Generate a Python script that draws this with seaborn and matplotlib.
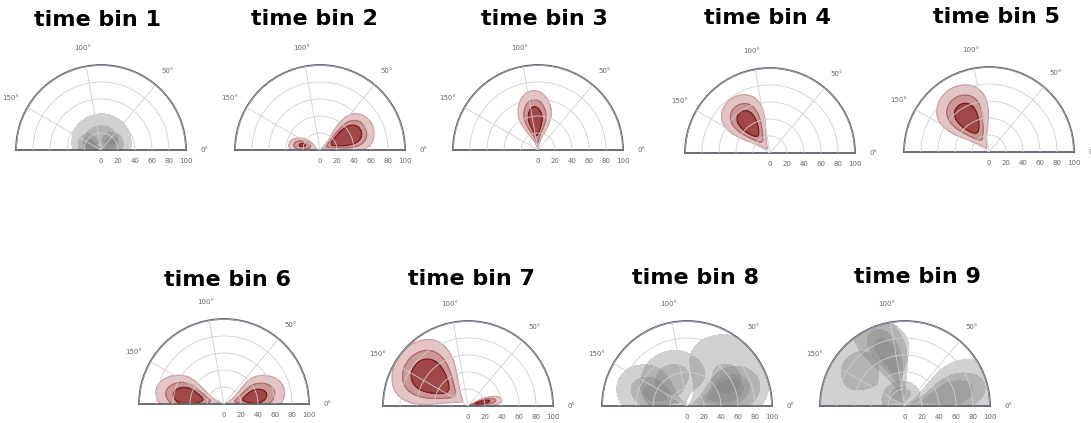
import numpy as np
import pandas as pd
import matplotlib
matplotlib.use("Agg")
import matplotlib.pyplot as plt
import seaborn as sns

# ── Data: sample points (angle in degrees, radius), grouped by cluster ───────

# time bin 1
theta_b1_a = [10, 35, 60, 85, 110, 135, 160, 175, 20, 50, 80, 100, 130, 155, 90]
r_b1_a     = [19, 22, 24, 27, 24, 22, 19, 16, 8, 11, 14, 14, 11, 8, 36]
theta_b1_b = [15, 45, 30, 50, 25]
r_b1_b     = [6, 12, 18, 8, 14]
theta_b1_c = [135, 165, 150, 170, 155]
r_b1_c     = [6, 12, 18, 8, 14]

# time bin 2
theta_b2_a = [26, 13, 39, 26, 26, 16, 36, 16, 36, 6, 46, 26, 26, 11, 41, 11, 41,
              20, 32, 20, 32, 26, 26, 20, 32]
r_b2_a     = [34, 34, 34, 19, 49, 22, 22, 46, 46, 34, 34, 10, 58, 16, 16, 52, 52,
              27, 27, 41, 41, 27, 41, 34, 34]
theta_b2_b = [156, 166, 176, 172, 162, 168, 150]
r_b2_b     = [18, 30, 24, 12, 24, 20, 14]

# time bin 3
theta_b3_a = [95, 84, 106, 95, 95, 87, 103, 87, 103, 78, 112, 95, 95]
r_b3_a     = [34, 34, 34, 20, 48, 23, 23, 45, 45, 34, 34, 12, 56]

# time bin 4
theta_b4_a = [126, 116, 136, 126, 126, 118, 134, 118, 134, 110, 142, 126, 126, 114, 138, 114, 138]
r_b4_a     = [42, 42, 42, 29, 55, 31, 31, 53, 53, 42, 42, 21, 63, 26, 26, 58, 58]

# time bin 5
theta_b5_a = [122, 111, 133, 122, 122, 113, 131, 113, 131, 104, 140, 122, 122, 108, 136, 108, 136]
r_b5_a     = [46, 46, 46, 31, 61, 34, 34, 58, 58, 46, 46, 22, 70, 28, 28, 64, 64]

# time bin 6
theta_b6_a = [14, 1, 27, 14, 14, 4, 24, 4, 24, 0, 34, 14, 14]
r_b6_a     = [37, 37, 37, 22, 52, 25, 25, 49, 49, 37, 37, 14, 60]
theta_b6_b = [168, 157, 179, 168, 168, 159, 177, 159, 177, 151, 180, 168, 168]
r_b6_b     = [43, 43, 43, 27, 58, 31, 31, 55, 55, 43, 43, 18, 68]

# time bin 7
theta_b7_a = [143, 127, 159, 143, 143, 130, 156, 130, 156, 117, 169, 143, 143, 124, 162, 124, 162,
              135, 151, 135, 151, 143, 143, 135, 151]
r_b7_a     = [54, 54, 54, 33, 75, 37, 37, 71, 71, 54, 54, 20, 88, 29, 29, 79, 79,
              43, 43, 65, 65, 43, 65, 54, 54]
theta_b7_b = [8, 16, 12, 20]
r_b7_b     = [12, 18, 28, 10]

# time bin 8
theta_b8_a = [35, 16, 54, 35, 35, 20, 50, 20, 50, 5, 65, 35, 35]
r_b8_a     = [55, 55, 55, 36, 74, 40, 40, 70, 70, 55, 55, 25, 85]
theta_b8_b = [20, 12, 28, 20, 20, 13, 27, 13, 27, 7, 33, 20, 20]
r_b8_b     = [48, 48, 48, 35, 61, 38, 38, 58, 58, 48, 48, 28, 68]
theta_b8_c = [160, 148, 172, 160, 160, 151, 169, 151, 169, 141, 179, 160, 160]
r_b8_c     = [40, 40, 40, 25, 55, 28, 28, 52, 52, 40, 40, 16, 64]
theta_b8_d = [120, 99, 141, 120, 120, 103, 137, 103, 137, 86, 154, 120, 120]
r_b8_d     = [35, 35, 35, 23, 47, 26, 26, 44, 44, 35, 35, 16, 54]

# time bin 9
theta_b9_a = [142, 121, 163, 142, 142, 125, 159, 125, 159, 108, 176, 142, 142]
r_b9_a     = [65, 65, 65, 41, 89, 46, 46, 84, 84, 65, 65, 27, 100]
theta_b9_b = [108, 100, 116, 108, 108, 101, 115]
r_b9_b     = [62, 62, 62, 40, 85, 48, 76]
theta_b9_c = [15, 5, 25, 15, 15, 7, 23, 7, 23, 0, 31, 15, 15]
r_b9_c     = [52, 52, 52, 30, 74, 34, 34, 70, 70, 52, 52, 17, 87]
theta_b9_d = [70, 95, 120, 145, 85, 110, 135]
r_b9_d     = [15, 18, 20, 18, 8, 8, 8]

bins = [
    [(theta_b1_a, r_b1_a), (theta_b1_b, r_b1_b), (theta_b1_c, r_b1_c)],
    [(theta_b2_a, r_b2_a), (theta_b2_b, r_b2_b)],
    [(theta_b3_a, r_b3_a)],
    [(theta_b4_a, r_b4_a)],
    [(theta_b5_a, r_b5_a)],
    [(theta_b6_a, r_b6_a), (theta_b6_b, r_b6_b)],
    [(theta_b7_a, r_b7_a), (theta_b7_b, r_b7_b)],
    [(theta_b8_a, r_b8_a), (theta_b8_b, r_b8_b), (theta_b8_c, r_b8_c), (theta_b8_d, r_b8_d)],
    [(theta_b9_a, r_b9_a), (theta_b9_b, r_b9_b), (theta_b9_c, r_b9_c), (theta_b9_d, r_b9_d)],
]
titles = ["time bin 1", "time bin 2", "time bin 3", "time bin 4", "time bin 5",
          "time bin 6", "time bin 7", "time bin 8", "time bin 9"]
is_gray = [True, False, False, False, False, False, False, True, True]

theta_ticks = [0, 50, 100, 150]
r_ticks = [0, 20, 40, 60, 80, 100]

# ── Style ─────────────────────────────────────────────────────────────────────

RED_LEVELS = [0.1, 0.35, 0.65]           # iso-proportions, outer → inner
GRAY_LEVELS = [0.03, 0.35, 0.7]
RED_FILL = ["#e4c4c4", "#cc9898", "#a04848"]
RED_EDGE = ["#cfa3a3", "#b06a6a", "#7d1c1c"]
GRAY = "#808080"
SPINE = "#5d6171"
CLIP = ((0, np.pi), (0, 100))
BW = 1.5

sns.set_style("whitegrid")
plt.rcParams["contour.linewidth"] = 0.9

W, H = 1091, 423
fig = plt.figure(figsize=(W / 100, H / 100), dpi=100)

# origin of each half-disc (px from left, px from top); radius 85 px
panel_px = [(101, 150), (320, 150), (538, 150), (770, 153), (989, 152),
            (224, 404), (468, 406), (687, 406), (905, 406)]
title_px = [(98, 26), (314, 25), (544, 25), (767, 24), (996, 23),
            (228, 286), (472, 285), (696, 284), (917, 283)]
RP = 85

kde_kws = dict(x="theta", y="r", hue="group", common_norm=True, common_grid=True,
               bw_adjust=BW, clip=CLIP, legend=False)


def fill_level(ax, df, lev, color, alpha):
    n0 = len(ax.collections)
    sns.kdeplot(data=df, ax=ax, fill=True, levels=[lev, 1.0], **kde_kws)
    for c in ax.collections[n0:]:
        c.set_array(None)
        c.set_facecolor(color)
        c.set_edgecolor("none")
        c.set_alpha(alpha)


for i in range(9):
    ox, oy = panel_px[i]
    ax = fig.add_axes([(ox - RP) / W, (H - oy - RP / 2) / H, 2 * RP / W, 2 * RP / H],
                      projection="polar")
    df = pd.concat([
        pd.DataFrame({"theta": np.deg2rad(t), "r": np.asarray(r, dtype=float),
                      "group": f"g{j}"})
        for j, (t, r) in enumerate(bins[i])
    ], ignore_index=True)
    groups = df["group"].unique()

    if is_gray[i]:
        for lev in GRAY_LEVELS:
            fill_level(ax, df, lev, GRAY, 0.36)
    else:
        for k, lev in enumerate(RED_LEVELS):
            fill_level(ax, df, lev, RED_FILL[k], 1.0)
        for k, lev in enumerate(RED_LEVELS):
            sns.kdeplot(data=df, ax=ax, fill=False, levels=[lev],
                        palette={g: RED_EDGE[k] for g in groups}, **kde_kws)

    ax.set_thetamin(0)
    ax.set_thetamax(180)
    ax.set_rlim(0, 100)
    ax.set_thetagrids(theta_ticks)
    ax.set_rticks(r_ticks)
    ax.set_xlabel("")
    ax.set_ylabel("")
    ax.set_axisbelow(False)
    ax.grid(True, color="#cfcfcf", linewidth=0.6)
    for sp in ax.spines.values():
        sp.set_color(SPINE)
        sp.set_linewidth(1.3)
    ax.tick_params(axis="x", pad=3, labelsize=5, labelcolor="#666666")
    ax.tick_params(axis="y", pad=2, labelsize=5, labelcolor="#666666")

    tx, ty = title_px[i]
    fig.text(tx / W, 1 - ty / H, titles[i], ha="center", va="baseline",
             fontsize=16, fontweight="bold", color="black")

fig.savefig("out.png", dpi=100)
